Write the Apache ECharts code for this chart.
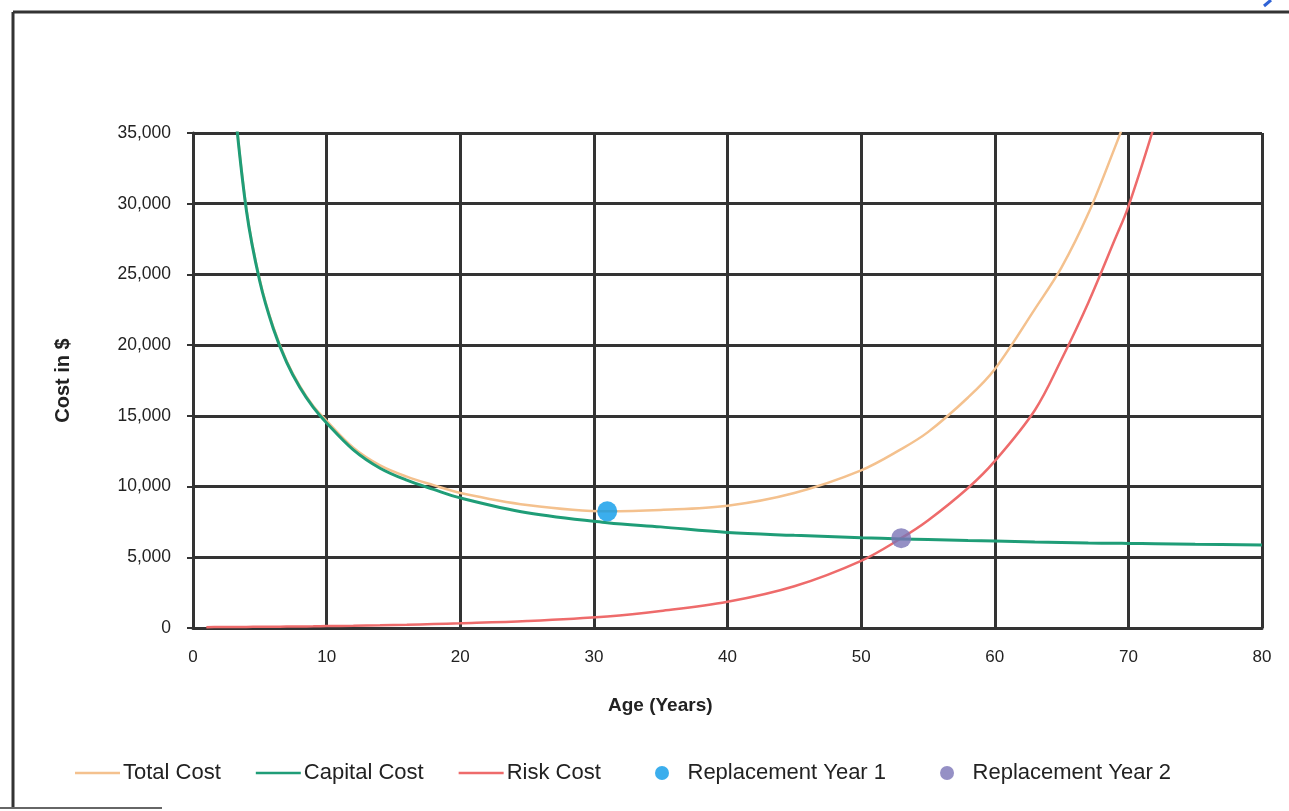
<!DOCTYPE html>
<html>
<head>
<meta charset="utf-8">
<script src="https://cdn.jsdelivr.net/npm/echarts@6/dist/echarts.min.js"></script>
<style>
  html, body { margin: 0; padding: 0; background: #fff; }
  #chart { width: 1289px; height: 811px; }
</style>
</head>
<body>
<div id="chart"></div>
<script>
// Age of the asset in years (sample points along the curves)
const ages = [1, 2, 3, 4, 5, 6, 7, 8, 9, 10, 12, 14, 16, 18, 20, 25, 31, 35, 40, 45, 50, 53, 55, 58, 60, 63, 65, 67, 69, 70, 72, 75, 80];

// Annualised cost curves in $
const totalCost   = [null, null, 38200, 29600, 24600, 21300, 18900, 17100, 15700, 14650, 12750, 11500, 10700, 10100, 9550, 8700, 8250, 8350, 8650, 9550, 11150, 12650, 13850, 16300, 18300, 22550, 25500, 29300, 34000, 36500, null, null, null];
const capitalCost = [null, null, 38100, 29500, 24500, 21200, 18800, 17000, 15600, 14500, 12600, 11300, 10450, 9800, 9200, 8150, 7450, 7150, 6750, 6550, 6380, 6300, 6250, 6180, 6150, 6080, 6050, 6010, 5990, 5980, 5960, 5920, 5870];
const riskCost    = [60, 65, 70, 75, 85, 90, 100, 110, 120, 135, 160, 190, 230, 280, 330, 500, 820, 1200, 1850, 2950, 4750, 6350, 7600, 9900, 11800, 15400, 19000, 23000, 27500, 29800, 35700, null, null];

// Replacement points [age, cost]
const replacementYear1 = [31, 8250];
const replacementYear2 = [53, 6350];

// Axis ticks
const xTicks = [0, 10, 20, 30, 40, 50, 60, 70, 80];
const yTicks = [0, 5000, 10000, 15000, 20000, 25000, 30000, 35000];

const seriesNames = ['Total Cost', 'Capital Cost', 'Risk Cost', 'Replacement Year 1', 'Replacement Year 2'];
const seriesColors = ['#f4c18e', '#1f9d77', '#ee6b6b', '#0a9ae8', '#7b74b6'];

function pairs(values) {
  return ages.map((a, i) => [a, values[i]]).filter(p => p[1] !== null);
}

const FONT = "'Liberation Sans', Arial, sans-serif";
const GRID_COLOR = '#333';
// thin horizontal bar used as the legend key for the line series
const LINE_ICON = 'path://M0,0 L45,0 L45,2.5 L0,2.5 Z';

const legendText = { color: '#222', fontFamily: FONT, fontSize: 22, padding: [0, 0, 0, -2] };

const chart = echarts.init(document.getElementById('chart'), null, { renderer: 'canvas' });

const lineBase = {
  type: 'line',
  symbol: 'none',
  smooth: 0.35,
  clip: true,
  animation: false
};

chart.setOption({
  animation: false,
  backgroundColor: '#fff',
  grid: { left: 193, right: 27, top: 133, bottom: 183, containLabel: false },
  xAxis: {
    type: 'value',
    min: xTicks[0],
    max: xTicks[xTicks.length - 1],
    interval: 10,
    axisLine: { show: true, onZero: false, lineStyle: { color: GRID_COLOR, width: 3 } },
    axisTick: { show: false },
    splitLine: { show: true, lineStyle: { color: GRID_COLOR, width: 3 } },
    axisLabel: { color: '#222', fontFamily: FONT, fontSize: 17, margin: 21 }
  },
  yAxis: {
    type: 'value',
    min: yTicks[0],
    max: yTicks[yTicks.length - 1],
    interval: 5000,
    name: 'Cost in $',
    nameLocation: 'middle',
    nameGap: 120,
    nameRotate: 90,
    nameTextStyle: { color: '#222', fontFamily: FONT, fontSize: 20, fontWeight: 'bold' },
    axisLine: { show: true, lineStyle: { color: GRID_COLOR, width: 3 } },
    axisTick: { show: true, length: 6, lineStyle: { color: GRID_COLOR, width: 2 } },
    splitLine: { show: true, lineStyle: { color: GRID_COLOR, width: 3 } },
    axisLabel: {
      color: '#222', fontFamily: FONT, fontSize: 17.5, margin: 22,
      formatter: v => v.toLocaleString('en-US')
    }
  },
  legend: [
    {
      data: [
        { name: seriesNames[0], icon: LINE_ICON, itemStyle: { color: seriesColors[0] } },
        { name: seriesNames[1], icon: LINE_ICON, itemStyle: { color: seriesColors[1] } },
        { name: seriesNames[2], icon: LINE_ICON, itemStyle: { color: seriesColors[2] } }
      ],
      left: 70,
      top: 757,
      itemWidth: 45,
      itemHeight: 14,
      itemGap: 35,
      textStyle: legendText
    },
    {
      data: [
        { name: seriesNames[3], icon: 'circle' },
        { name: seriesNames[4], icon: 'circle' }
      ],
      left: 650,
      top: 757,
      itemWidth: 45,
      itemHeight: 14,
      itemGap: 54,
      textStyle: legendText
    }
  ],
  series: [
    Object.assign({}, lineBase, {
      name: seriesNames[0],
      data: pairs(totalCost),
      lineStyle: { color: seriesColors[0], width: 2.5 },
      itemStyle: { color: seriesColors[0] },
      z: 2
    }),
    Object.assign({}, lineBase, {
      name: seriesNames[1],
      data: pairs(capitalCost),
      lineStyle: { color: seriesColors[1], width: 3 },
      itemStyle: { color: seriesColors[1] },
      z: 3
    }),
    Object.assign({}, lineBase, {
      name: seriesNames[2],
      data: pairs(riskCost),
      lineStyle: { color: seriesColors[2], width: 2.5 },
      itemStyle: { color: seriesColors[2] },
      z: 2
    }),
    {
      name: seriesNames[3],
      type: 'scatter',
      symbol: 'circle',
      symbolSize: 20,
      data: [replacementYear1],
      itemStyle: { color: seriesColors[3] },
      z: 5
    },
    {
      name: seriesNames[4],
      type: 'scatter',
      symbol: 'circle',
      symbolSize: 20,
      data: [replacementYear2],
      itemStyle: { color: seriesColors[4] },
      z: 5
    }
  ],
  graphic: [
    // outer frame around the panel
    { type: 'line', shape: { x1: 13, y1: 12, x2: 1289, y2: 12 }, style: { stroke: '#333', lineWidth: 3 } },
    { type: 'line', shape: { x1: 13, y1: 12, x2: 13, y2: 808 }, style: { stroke: '#333', lineWidth: 3 } },
    { type: 'line', shape: { x1: 0, y1: 808, x2: 162, y2: 808 }, style: { stroke: '#666', lineWidth: 2 } },
    { type: 'line', shape: { x1: 1264, y1: 6, x2: 1271, y2: 0 }, style: { stroke: '#2f62d6', lineWidth: 3 } },
    // x axis title
    {
      type: 'text',
      left: 608,
      top: 696,
      style: { text: 'Age (Years)', fill: '#222', font: "bold 19px 'Liberation Sans', Arial, sans-serif" }
    }
  ]
});
</script>
</body>
</html>
